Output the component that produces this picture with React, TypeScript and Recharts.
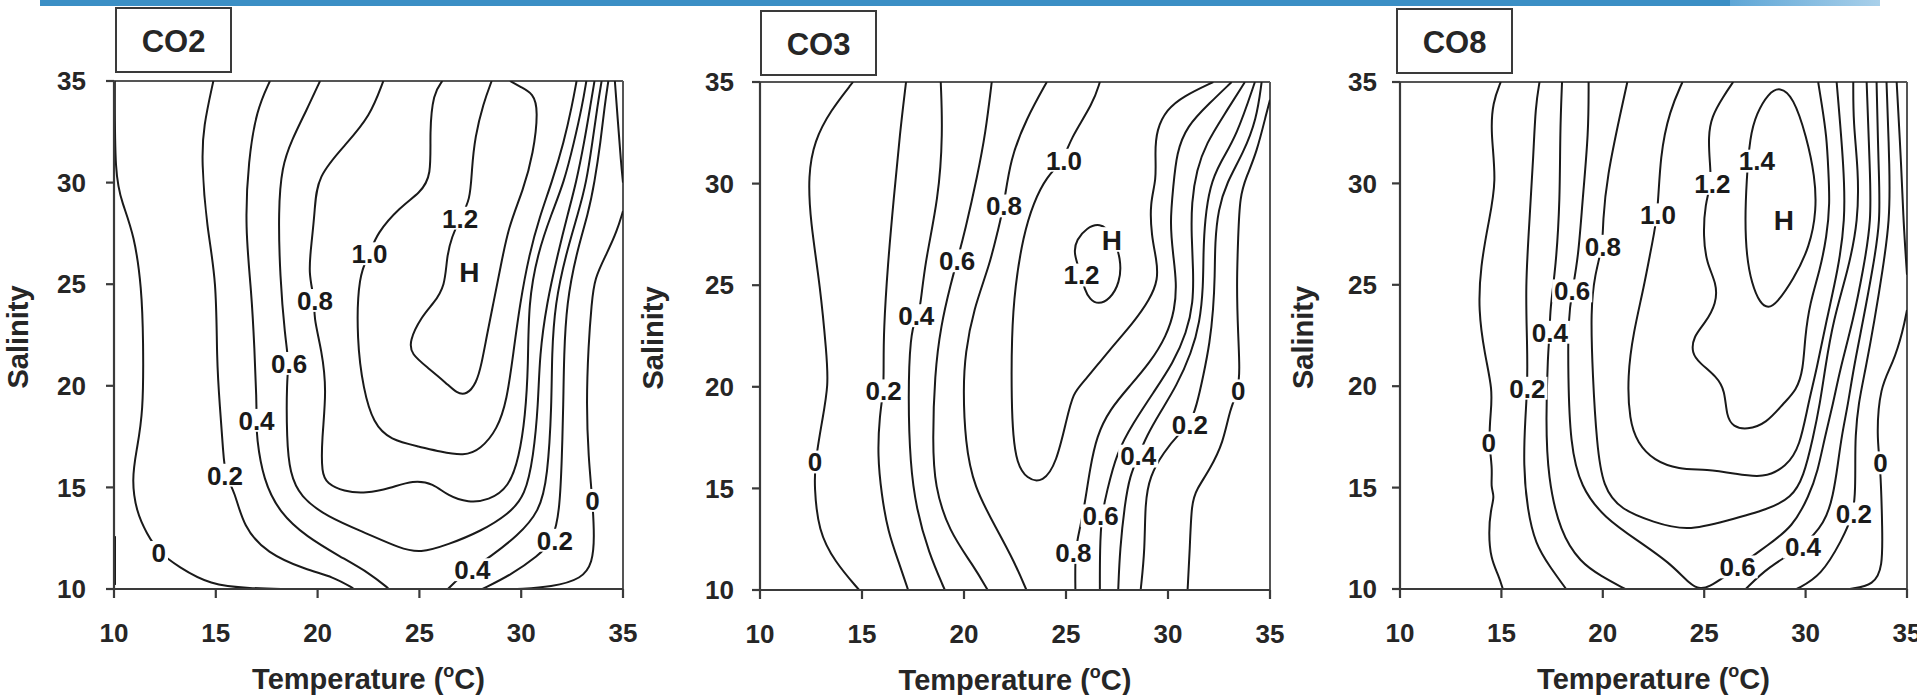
import React from 'react';
import { ComposedChart, Line, Scatter, XAxis, YAxis, ReferenceLine, Label } from 'recharts';

const FONT = '"Liberation Sans", Arial, Helvetica, sans-serif';
const AXIS_TICKS = [10, 15, 20, 25, 30, 35];

type Pt = [number, number]; // [temperature, salinity]
type Tag = [number, number, string];

// ---------------- CO2 ----------------
const co2Zero: Pt[] = [[10.04, 35], [10.04, 30.3], [10.4, 29.0], [11.0, 27.4], [11.36, 24.8], [11.44, 22.25], [11.44, 18.65], [11.1, 16.8], [10.87, 15.36], [11.1, 13.8], [11.6, 12.74], [12.2, 11.8], [13.16, 11.1], [14.7, 10.2], [16.7, 10.03], [18.5, 10.0]];
const co2ZeroEdge: Pt[] = [[10.05, 10.2], [10.05, 12.6]];
const co2P2: Pt[] = [[14.88, 35], [14.39, 32.75], [14.3, 31.1], [14.55, 27.8], [15.04, 25.2], [15.04, 21.27], [15.2, 18.97], [15.37, 16.68], [15.45, 15.6], [15.94, 14.79], [16.35, 13.07], [17.5, 11.76], [19.46, 10.94], [20.77, 10.6], [21.75, 10.03]];
const co2P4: Pt[] = [[17.66, 35], [17.0, 33.57], [16.6, 31.1], [16.43, 27.83], [16.76, 24.55], [16.9, 21.8], [17.0, 19.3], [17.0, 18.3], [17.0, 17.5], [17.33, 15.36], [18.15, 13.73], [19.46, 12.57], [21.1, 11.6], [22.57, 10.77], [23.47, 10.03]];
const co2P6: Pt[] = [[20.12, 35], [19.46, 33.57], [18.73, 32.1], [18.24, 30.78], [18.07, 28.65], [18.15, 25.37], [18.4, 22.4], [18.6, 21.1], [18.48, 20.3], [18.48, 17.33], [18.64, 15.7], [19.14, 14.54], [20.45, 13.56], [22.4, 12.74], [24.05, 12.0], [25.03, 11.76], [26.4, 12.18], [28.0, 12.83], [29.4, 13.7], [30.2, 14.6], [30.6, 16.5], [30.84, 19.1], [30.9, 21.5], [31.25, 24.06], [31.8, 26.5], [32.3, 28.5], [32.7, 30.0], [33.1, 32.0], [33.4, 33.8], [33.6, 35]];
const co2P8: Pt[] = [[23.23, 35], [22.57, 33.25], [21.43, 31.93], [19.96, 30.3], [19.87, 28.65], [19.7, 27.0], [19.54, 25.54], [19.87, 24.2], [19.8, 23.4], [20.2, 21.76], [20.45, 19.8], [20.2, 17.33], [20.2, 15.69], [20.45, 15.2], [21.27, 14.79], [22.4, 14.7], [23.56, 14.96], [24.7, 15.36], [25.68, 15.2], [26.4, 14.58], [27.4, 14.25], [28.4, 14.36], [29.4, 15.0], [29.9, 16.5], [30.2, 18.5], [30.35, 21], [30.35, 24.06], [30.8, 26.5], [31.5, 28.5], [32.1, 30.0], [32.6, 32.0], [33.0, 33.8], [33.2, 35]];
const co2P10: Pt[] = [[26.13, 35], [25.68, 34.4], [25.5, 32.5], [25.6, 30.3], [25.03, 29.5], [24.05, 28.8], [22.9, 27.5], [22.57, 26.5], [22.0, 25.5], [21.92, 22.25], [22.25, 19.8], [22.74, 18.15], [23.56, 17.33], [25.03, 17.0], [26.0, 16.76], [27.2, 16.54], [28.0, 16.87], [28.83, 17.85], [29.3, 19.3], [29.6, 21.5], [29.94, 24.06], [30.4, 26.5], [30.9, 28.3], [31.5, 30.0], [32.1, 32.0], [32.5, 33.8], [32.72, 35]];
const co2P12: Pt[] = [[28.55, 35], [28.14, 33.9], [27.73, 32.26], [27.57, 30.62], [27.5, 29.14], [27.0, 28.24], [26.59, 27.34], [26.34, 26.35], [26.26, 24.9], [25.7, 24.06], [25.1, 23.4], [24.5, 22.2], [24.6, 21.55], [25.4, 20.9], [26.34, 20.12], [26.83, 19.63], [27.32, 19.55], [27.8, 20.12], [28.06, 21.1], [28.3, 22.4], [28.63, 24.06], [28.96, 25.7], [29.37, 27.83], [30.1, 29.63], [30.6, 31.44], [30.84, 33.57], [30.6, 34.39], [29.94, 34.72], [29.45, 35]];
const co2P4East: Pt[] = [[26.4, 10], [27.0, 10.6], [27.6, 11.0], [28.5, 11.6], [29.8, 12.6], [30.9, 13.8], [31.3, 15.5], [31.5, 19.1], [31.5, 21.5], [31.66, 24.06], [32.2, 26.5], [32.8, 28.5], [33.2, 30.0], [33.5, 32], [33.75, 33.8], [33.95, 35]];
const co2P2East: Pt[] = [[28.1, 10], [29.5, 10.7], [30.8, 11.6], [31.6, 12.4], [31.9, 14], [32.0, 16.5], [32.07, 19.1], [32.1, 21.5], [32.23, 24.06], [32.7, 26.5], [33.3, 28.5], [33.6, 30.0], [33.9, 32], [34.1, 33.8], [34.28, 35]];
const co2ZeroEast: Pt[] = [[29.8, 10], [31.5, 10.1], [33.0, 10.5], [33.5, 11.3], [33.6, 12.5], [33.5, 14.4], [33.3, 16.5], [33.2, 19.1], [33.3, 22], [33.46, 24.06], [33.6, 25.3], [34.2, 26.5], [34.7, 27.6], [35, 28.6]];
const co2Corner: Pt[] = [[34.6, 35], [34.75, 33], [34.9, 31.0], [35, 30.0]];
const co2Tags: Tag[] = [[12.2, 11.8, '0'], [15.45, 15.6, '0.2'], [17.0, 18.3, '0.4'], [18.6, 21.1, '0.6'], [19.87, 24.2, '0.8'], [22.55, 26.5, '1.0'], [27.0, 28.25, '1.2'], [27.45, 25.6, 'H'], [27.6, 10.95, '0.4'], [31.65, 12.4, '0.2'], [33.5, 14.36, '0']];

// ---------------- CO3 ----------------
const co3Zero: Pt[] = [[14.56, 35], [13.46, 33.6], [12.66, 32.1], [12.36, 30.4], [12.46, 28.2], [12.96, 24.9], [13.26, 21.65], [13.36, 20.1], [13.06, 18.4], [12.7, 16.3], [12.66, 15.1], [12.86, 12.9], [13.66, 11.4], [14.86, 10]];
const co3P2: Pt[] = [[17.16, 35], [16.86, 32.5], [16.56, 29.3], [16.26, 26.0], [16.06, 22.7], [16.06, 21.0], [16.06, 19.8], [15.86, 18.6], [15.76, 16.6], [15.96, 14.7], [16.26, 12.9], [16.86, 11.2], [17.26, 10]];
const co3P4: Pt[] = [[18.86, 35], [18.96, 32.5], [18.76, 29.3], [18.06, 26.0], [17.86, 23.8], [17.66, 23.5], [17.36, 22.5], [17.26, 19.5], [17.36, 16.2], [17.66, 14.0], [18.26, 11.85], [19.06, 10]];
const co3P6: Pt[] = [[21.36, 35], [21.06, 32.5], [20.66, 30.4], [20.06, 27.7], [19.66, 26.2], [19.36, 25.1], [18.86, 23.0], [18.56, 20.6], [18.46, 17.3], [18.56, 15.1], [19.26, 12.9], [20.46, 11.2], [21.16, 10]];
const co3P8: Pt[] = [[24.06, 35], [23.06, 33.2], [22.26, 31.2], [21.96, 28.9], [21.66, 27.7], [21.26, 26.0], [20.46, 23.8], [20.06, 21.65], [19.96, 19.9], [20.06, 17.3], [20.46, 15.1], [21.66, 12.9], [22.46, 11.4], [23.06, 10]];
const co3P10: Pt[] = [[26.66, 35], [26.34, 33.97], [25.19, 32.17], [24.9, 31.15], [24.05, 30.36], [23.4, 29.05], [22.9, 27.41], [22.5, 24.95], [22.33, 22.5], [22.33, 19.2], [22.41, 17.58], [22.58, 16.27], [23.07, 15.45], [23.88, 15.28], [24.54, 16.27], [25.03, 18.4], [25.35, 19.7], [25.84, 20.2], [27.15, 21.84], [28.3, 23.15], [29.11, 24.3], [29.52, 25.28], [29.44, 26.27], [29.19, 27.41], [29.11, 29.05], [29.44, 30.2], [29.36, 31.51], [29.44, 32.66], [29.93, 33.64], [30.75, 34.3], [32.22, 35]];
const co3P12: Pt[] = [[25.35, 26.59], [25.52, 27.25], [26.01, 27.82], [26.66, 28.07], [27.23, 27.6], [27.72, 26.27], [27.64, 25.12], [27.15, 24.3], [26.58, 24.05], [26.17, 24.3], [25.9, 24.8], [25.76, 25.5]];
const co3P8East: Pt[] = [[25.46, 10], [25.44, 12.0], [25.68, 12.99], [25.93, 14.3], [26.17, 15.94], [26.5, 17.58], [27.15, 18.89], [28.13, 20.04], [29.11, 21.18], [29.93, 22.5], [30.34, 23.8], [30.42, 25.12], [30.26, 26.43], [30.09, 28.07], [30.26, 29.87], [30.42, 31.51], [30.91, 32.82], [32.05, 33.97], [33.12, 35]];
const co3P6East: Pt[] = [[26.66, 10], [26.66, 12.0], [26.74, 13.64], [26.99, 14.79], [27.48, 16.76], [28.3, 18.23], [29.28, 19.71], [30.26, 21.18], [30.91, 22.66], [31.24, 24.13], [31.24, 25.77], [31.15, 27.41], [31.15, 29.05], [31.4, 30.69], [31.89, 32.0], [32.71, 33.32], [33.77, 35]];
const co3P4East: Pt[] = [[27.56, 10], [27.64, 12.0], [27.89, 14.3], [28.13, 15.61], [28.54, 16.59], [28.95, 17.58], [29.6, 18.72], [30.42, 20.04], [31.15, 21.68], [31.56, 23.15], [31.73, 24.95], [31.73, 26.59], [31.81, 28.23], [32.05, 29.87], [32.54, 31.02], [33.36, 32.33], [34.26, 35]];
const co3P2East: Pt[] = [[28.66, 10], [28.87, 12.0], [28.87, 14.3], [29.11, 15.61], [29.77, 16.76], [30.58, 17.74], [31.07, 18.15], [31.4, 19.05], [31.73, 20.53], [32.05, 22.17], [32.22, 23.8], [32.3, 25.45], [32.3, 27.09], [32.46, 28.72], [32.87, 30.04], [33.69, 31.51], [34.34, 33.15], [34.59, 35]];
const co3ZeroEast: Pt[] = [[30.96, 10], [31.07, 12.0], [31.15, 14.3], [31.4, 14.95], [32.05, 15.94], [32.71, 17.25], [33.03, 18.89], [33.44, 19.8], [33.52, 20.86], [33.44, 22.5], [33.36, 24.95], [33.44, 27.41], [33.52, 29.38], [33.85, 30.36], [34.34, 31.51], [34.83, 33.48], [35.0, 34.13]];
const co3Tags: Tag[] = [[12.7, 16.3, '0'], [16.06, 19.8, '0.2'], [17.66, 23.5, '0.4'], [19.66, 26.2, '0.6'], [21.96, 28.9, '0.8'], [24.9, 31.15, '1.0'], [25.76, 25.5, '1.2'], [27.25, 27.25, 'H'], [25.36, 11.85, '0.8'], [26.7, 13.65, '0.6'], [28.54, 16.59, '0.4'], [31.07, 18.15, '0.2'], [33.44, 19.8, '0']];

// ---------------- CO8 ----------------
const co8Zero: Pt[] = [[14.97, 35], [14.57, 34.0], [14.47, 32.5], [14.77, 30.1], [14.37, 28.1], [13.97, 25.9], [13.86, 23.75], [14.17, 21.6], [14.57, 19.8], [14.47, 18.7], [14.37, 17.2], [14.57, 15.9], [14.47, 15.0], [14.67, 14.6], [14.47, 13.9], [14.37, 12.8], [14.47, 11.5], [14.87, 10.65], [15.07, 10]];
const co8P2: Pt[] = [[16.88, 35], [16.68, 33.8], [16.58, 31.4], [16.38, 28.1], [16.18, 24.85], [16.28, 22.0], [16.28, 19.9], [16.18, 18.5], [16.08, 16.1], [16.28, 13.9], [16.68, 12.2], [17.39, 11.1], [18.19, 10]];
const co8P4: Pt[] = [[17.99, 35], [17.89, 32.5], [17.89, 29.2], [17.69, 25.9], [17.39, 23.75], [17.39, 22.66], [17.29, 21.6], [17.19, 18.3], [17.29, 15.5], [17.89, 12.8], [18.9, 11.3], [19.9, 10.65], [21.1, 10]];
const co8P6: Pt[] = [[19.3, 35], [19.3, 32.5], [19.0, 29.2], [18.8, 26.4], [18.49, 24.7], [18.29, 23.3], [18.29, 20.5], [18.39, 17.2], [18.9, 15.0], [20.1, 13.5], [21.7, 12.4], [23.3, 11.3], [24.33, 10.2], [24.8, 10.0], [25.24, 10.1], [26.0, 10.6], [26.65, 11.09], [28.16, 12.18], [29.36, 13.06], [30.17, 14.59], [30.6, 15.8], [30.95, 17.51], [31.36, 19.15], [31.69, 20.8], [32.35, 23.26], [32.84, 25.73], [33.25, 28.19], [33.17, 30.66], [33.01, 35]];
const co8P8: Pt[] = [[21.21, 35], [20.9, 33.6], [20.2, 30.3], [20.0, 28.1], [20.0, 26.9], [19.6, 25.5], [19.4, 23.75], [19.5, 20.5], [19.7, 17.2], [20.0, 15.0], [20.9, 13.9], [22.5, 13.3], [24.13, 12.84], [26.14, 13.38], [28.16, 13.93], [29.3, 14.5], [29.9, 15.5], [30.38, 17.51], [30.71, 19.15], [30.95, 20.8], [31.36, 23.26], [32.1, 25.73], [32.6, 28.19], [32.6, 30.66], [32.35, 33], [32.35, 35]];
const co8P10: Pt[] = [[23.93, 35], [23.3, 33.6], [22.82, 31.4], [22.72, 28.45], [22.42, 27.0], [22.02, 24.85], [21.51, 22.66], [21.21, 20.5], [21.31, 18.3], [21.71, 17.2], [22.52, 16.33], [23.73, 15.9], [25.14, 15.9], [26.55, 15.68], [27.91, 15.46], [29.06, 16.03], [29.72, 17.02], [30.13, 19.15], [30.54, 20.8], [31.03, 23.26], [31.6, 25.73], [31.95, 28.19], [31.9, 30.66], [31.53, 35]];
const co8P12: Pt[] = [[26.43, 35], [25.94, 34.28], [25.36, 33.29], [25.2, 32.3], [25.28, 30.99], [25.36, 30.0], [25.04, 29.0], [24.95, 27.37], [25.12, 26.06], [25.61, 25.07], [25.61, 24.1], [25.04, 23.1], [24.46, 22.44], [24.38, 21.62], [24.79, 21.13], [25.61, 20.47], [26.02, 19.81], [26.1, 18.5], [26.43, 18.0], [27.09, 17.84], [28.08, 18.17], [28.9, 19.15], [29.56, 19.81], [29.88, 20.8], [29.97, 22.44], [30.21, 24.1], [30.71, 25.73], [31.04, 27.37], [31.2, 29.0], [31.12, 30.66], [31.04, 32.3], [30.79, 33.95], [30.62, 35]];
const co8P14: Pt[] = [[28.73, 34.77], [29.39, 34.28], [30.05, 32.3], [30.46, 30.33], [30.54, 28.69], [30.21, 26.88], [29.39, 25.24], [28.57, 24.08], [28.16, 23.84], [27.75, 24.08], [27.34, 25.07], [27.09, 26.39], [27.01, 28.19], [27.09, 30.17], [27.25, 32.3], [27.58, 33.45], [28.16, 34.44]];
const co8P4East: Pt[] = [[27.05, 10], [28.16, 11.1], [29.87, 12.07], [30.97, 13.27], [31.36, 14.6], [31.6, 16.2], [31.77, 17.51], [32.1, 19.15], [32.35, 20.8], [32.84, 23.26], [33.3, 25.73], [33.7, 28.19], [33.6, 30.66], [33.5, 35]];
const co8P2East: Pt[] = [[29.56, 10], [30.77, 10.65], [31.78, 12.4], [32.38, 13.7], [32.45, 15.04], [32.45, 16.2], [32.45, 17.51], [32.6, 19.15], [32.95, 20.8], [33.4, 23.26], [33.8, 25.73], [34.15, 28.19], [34.15, 30.66], [33.99, 35]];
const co8ZeroEast: Pt[] = [[32.18, 10], [33.39, 10.2], [33.79, 11.1], [33.79, 12.84], [33.69, 16.22], [33.5, 17.5], [33.66, 19.98], [34.32, 21.13], [34.81, 22.77], [35, 23.76]];
const co8Corner: Pt[] = [[34.49, 35], [34.73, 30.66], [34.82, 28.19], [35, 25.5]];
const co8Tags: Tag[] = [[14.37, 17.2, '0'], [16.28, 19.9, '0.2'], [17.39, 22.66, '0.4'], [18.49, 24.7, '0.6'], [20.0, 26.9, '0.8'], [22.72, 28.45, '1.0'], [25.4, 30.0, '1.2'], [27.6, 31.1, '1.4'], [28.93, 28.2, 'H'], [26.65, 11.09, '0.6'], [29.87, 12.07, '0.4'], [32.38, 13.7, '0.2'], [33.69, 16.22, '0']];

const toRows = (pts: Pt[]) => pts.map(([x, y]) => ({ x, y }));
const toTags = (tags: Tag[]) => tags.map(([x, y, t]) => ({ x, y, t }));

const INK = '#1a1a1a';
const axisStyle = { stroke: '#3a3a3a', strokeWidth: 2.2 };
const tickStyle = { fontSize: 26, fontWeight: 'bold', fill: '#262626', fontFamily: FONT };

function renderTag(props: any) {
  const { cx, cy, payload } = props;
  const t: string = payload.t;
  const fs = t === 'H' ? 28 : 26;
  let w = 0;
  for (const ch of t) w += ch === '.' ? 0.278 : ch === 'H' ? 0.722 : 0.556;
  w *= fs;
  return (
    <g>
      <rect x={cx - w / 2 - 2} y={cy - fs * 0.44} width={w + 4} height={fs * 0.88} fill="#ffffff" />
      <text x={cx} y={cy + fs * 0.36} textAnchor="middle" fontSize={fs} fontWeight="bold" fill={INK} fontFamily={FONT}>
        {t}
      </text>
    </g>
  );
}

function XTitle(props: any) {
  const vb = props.viewBox || {};
  const cx = vb.x + vb.width / 2;
  const y = vb.y + 100;
  return (
    <text x={cx} y={y} textAnchor="middle" fontSize={29} fontWeight="bold" fill="#262626" fontFamily={FONT}>
      Temperature (<tspan fontSize={18} dy={-12}>o</tspan>
      <tspan dy={12}>C)</tspan>
    </text>
  );
}

function makeYTitle(dx: number) {
  return (props: any) => {
    const vb = props.viewBox || {};
    const bx = vb.x + dx;
    const cy = vb.y + vb.height / 2 + 2;
    return (
      <text x={bx} y={cy} transform={`rotate(-90 ${bx} ${cy})`} textAnchor="middle" fontSize={29} fontWeight="bold" fill="#262626" fontFamily={FONT}>
        Salinity
      </text>
    );
  };
}

interface PanelProps {
  left: number;
  width: number;
  top: number;
  bottom: number;
  axisW: number;
  right: number;
  tickGap: number;
  titleDx: number;
  lines: Pt[][];
  loops: Pt[][];
  tags: Tag[];
}

function Panel(p: PanelProps) {
  return (
    <div style={{ position: 'absolute', left: p.left, top: 0 }}>
      <ComposedChart width={p.width} height={695} margin={{ top: p.top, right: p.right, bottom: 0, left: 0 }}>
        <XAxis
          type="number"
          dataKey="x"
          domain={[10, 35]}
          ticks={AXIS_TICKS}
          interval={0}
          allowDataOverflow
          height={695 - p.bottom}
          tickSize={9}
          tickMargin={26}
          axisLine={axisStyle}
          tickLine={axisStyle}
          tick={tickStyle}
        >
          <Label content={XTitle} />
        </XAxis>
        <YAxis
          type="number"
          dataKey="y"
          domain={[10, 35]}
          ticks={AXIS_TICKS}
          interval={0}
          allowDataOverflow
          width={p.axisW}
          tickSize={8}
          tickMargin={p.tickGap}
          axisLine={axisStyle}
          tickLine={axisStyle}
          tick={tickStyle}
        >
          <Label content={makeYTitle(p.titleDx)} />
        </YAxis>
        <ReferenceLine y={35} stroke="#555" strokeWidth={2} />
        <ReferenceLine x={35} stroke="#555" strokeWidth={2} />
        {p.lines.map((pts, i) => (
          <Line key={'c' + i} data={toRows(pts)} dataKey="y" type="basis" stroke={INK} strokeWidth={2} dot={false} activeDot={false} isAnimationActive={false} />
        ))}
        {p.loops.map((pts, i) => (
          <Line key={'k' + i} data={toRows(pts)} dataKey="y" type="basisClosed" stroke={INK} strokeWidth={2} dot={false} activeDot={false} isAnimationActive={false} />
        ))}
        <Scatter data={toTags(p.tags)} shape={renderTag} isAnimationActive={false} />
      </ComposedChart>
    </div>
  );
}

function TitleBox({ left, top, text }: { left: number; top: number; text: string }) {
  return (
    <div
      style={{
        position: 'absolute',
        left,
        top,
        width: 117,
        height: 66,
        boxSizing: 'border-box',
        border: '2px solid #3a3a3a',
        display: 'flex',
        alignItems: 'center',
        justifyContent: 'center',
        fontFamily: FONT,
        fontSize: 31,
        fontWeight: 'bold',
        color: '#262626',
        paddingTop: 3,
      }}
    >
      {text}
    </div>
  );
}

export default function App() {
  return (
    <div style={{ position: 'absolute', left: 0, top: 0, width: 1917, height: 695, background: '#fff', overflow: 'hidden' }}>
      <div style={{ position: 'absolute', left: 40, top: 0, width: 1690, height: 6, background: '#3b8fc5' }} />
      <div style={{ position: 'absolute', left: 1730, top: 0, width: 150, height: 6, background: 'linear-gradient(90deg, #5ea6d6, #a9d0ea)' }} />
      <Panel
        left={0}
        width={660}
        top={81}
        bottom={589}
        axisW={114}
        right={37}
        tickGap={20}
        titleDx={28}
        lines={[co2Zero, co2ZeroEdge, co2P2, co2P4, co2P6, co2P8, co2P10, co2P12, co2P4East, co2P2East, co2ZeroEast, co2Corner]}
        loops={[]}
        tags={co2Tags}
      />
      <Panel
        left={610}
        width={690}
        top={82}
        bottom={590}
        axisW={150}
        right={30}
        tickGap={18}
        titleDx={53}
        lines={[co3Zero, co3P2, co3P4, co3P6, co3P8, co3P10, co3P8East, co3P6East, co3P4East, co3P2East, co3ZeroEast]}
        loops={[co3P12]}
        tags={co3Tags}
      />
      <Panel
        left={1250}
        width={667}
        top={82}
        bottom={589}
        axisW={150}
        right={10}
        tickGap={15}
        titleDx={63}
        lines={[co8Zero, co8P2, co8P4, co8P6, co8P8, co8P10, co8P12, co8P4East, co8P2East, co8ZeroEast, co8Corner]}
        loops={[co8P14]}
        tags={co8Tags}
      />
      <TitleBox left={115} top={7} text="CO2" />
      <TitleBox left={760} top={10} text="CO3" />
      <TitleBox left={1396} top={8} text="CO8" />
    </div>
  );
}
